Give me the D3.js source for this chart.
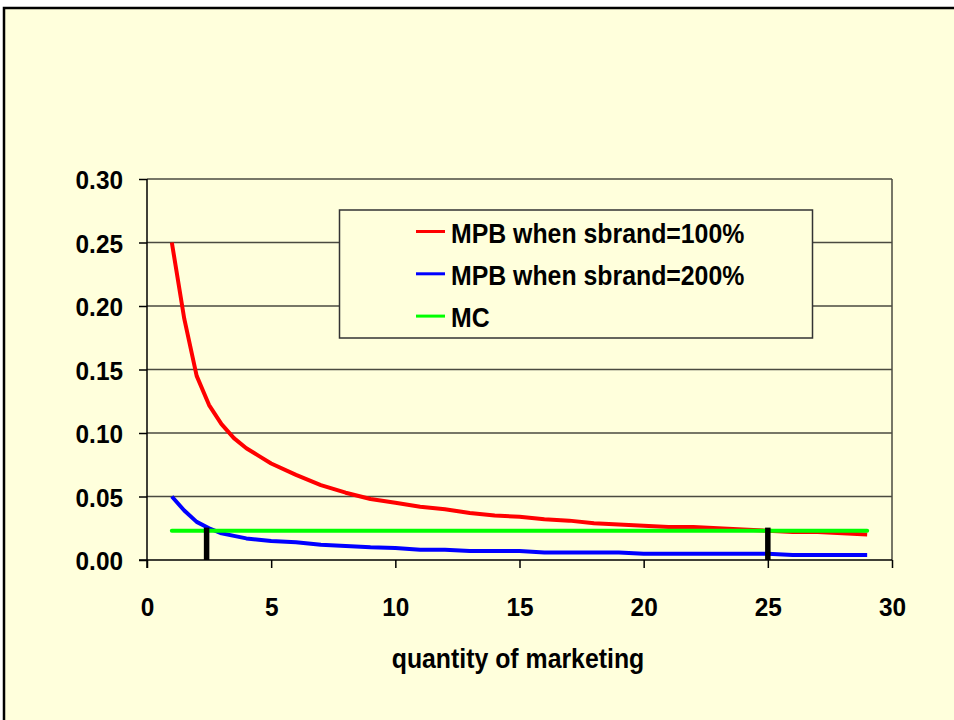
<!DOCTYPE html>
<html>
<head>
<meta charset="utf-8">
<script src="https://cdn.jsdelivr.net/npm/d3@7/dist/d3.min.js"></script>
<style>
  html, body { margin: 0; padding: 0; background: #ffffff; }
  svg { display: block; }
  text { font-family: "Liberation Sans", Arial, sans-serif; font-weight: bold; fill: #000; }
</style>
</head>
<body>
<svg id="chart" width="954" height="720"></svg>
<script>
// ---- data ----
const xValues = [1, 1.5, 2, 2.5, 3, 3.5, 4, 4.5, 5, 6, 7, 8, 9, 10, 11, 12, 13, 14, 15, 16, 17, 18, 19, 20, 21, 22, 23, 24, 25, 26, 27, 28, 29];
const mpb100 = [0.250, 0.190, 0.145, 0.122, 0.107, 0.096, 0.088, 0.082, 0.076, 0.067, 0.059, 0.053, 0.048, 0.045, 0.042, 0.040, 0.037, 0.035, 0.034, 0.032, 0.031, 0.029, 0.028, 0.027, 0.026, 0.026, 0.025, 0.024, 0.023, 0.022, 0.022, 0.021, 0.020];
const mpb200 = [0.050, 0.039, 0.030, 0.025, 0.021, 0.019, 0.017, 0.016, 0.015, 0.014, 0.012, 0.011, 0.010, 0.0095, 0.008, 0.008, 0.007, 0.007, 0.007, 0.006, 0.006, 0.006, 0.006, 0.005, 0.005, 0.005, 0.005, 0.005, 0.005, 0.004, 0.004, 0.004, 0.004];
const mcValue = 0.023;
const markerX = [2.4, 25];
const markerTop = [0.0255, 0.0255];
const seriesNames = ["MPB when sbrand=100%", "MPB when sbrand=200%", "MC"];
const seriesColors = ["#ff0000", "#0000ff", "#00ff00"];
const xTicks = [0, 5, 10, 15, 20, 25, 30];
const yTicks = [0, 0.05, 0.10, 0.15, 0.20, 0.25, 0.30];
const xTitle = "quantity of marketing";

// ---- layout ----
const svg = d3.select("#chart");
const bg = "#ffffdc";
const plot = { left: 147, right: 892, top: 179, bottom: 560 };
const x = d3.scaleLinear().domain([0, 30]).range([plot.left, plot.right]);
const y = d3.scaleLinear().domain([0, 0.30]).range([plot.bottom, plot.top]);
const squeeze = 0.92;

function condense(sel) {
  sel.each(function () {
    const len = this.getComputedTextLength();
    d3.select(this).attr("textLength", len * squeeze).attr("lengthAdjust", "spacingAndGlyphs");
  });
}

// outer frame
svg.append("rect").attr("x", 4).attr("y", 8).attr("width", 980).attr("height", 740)
  .attr("fill", bg).attr("stroke", "#000").attr("stroke-width", 2.5);

// gridlines
svg.append("g").selectAll("line").data(yTicks.filter(d => d > 0)).join("line")
  .attr("x1", plot.left).attr("x2", plot.right)
  .attr("y1", d => y(d)).attr("y2", d => y(d))
  .attr("stroke", "#4a4a40").attr("stroke-width", 1.5);
// right border of plot area
svg.append("line").attr("x1", plot.right).attr("x2", plot.right)
  .attr("y1", plot.top).attr("y2", plot.bottom)
  .attr("stroke", "#4a4a40").attr("stroke-width", 1.5);

// axes
const yAxis = d3.axisLeft(y).tickValues(yTicks).tickFormat(d3.format(".2f")).tickSize(8).tickPadding(16);
const xAxis = d3.axisBottom(x).tickValues(xTicks).tickFormat(d3.format("d")).tickSize(8).tickPadding(29);

const gy = svg.append("g").attr("transform", `translate(${plot.left},0)`).call(yAxis);
const gx = svg.append("g").attr("transform", `translate(0,${plot.bottom})`).call(xAxis);
[gx, gy].forEach(g => {
  g.select(".domain").attr("stroke", "#000").attr("stroke-width", 1.5);
  g.selectAll(".tick line").attr("stroke", "#000").attr("stroke-width", 1.5);
  g.selectAll(".tick text").attr("font-size", 26.5).attr("font-weight", "bold")
    .attr("font-family", '"Liberation Sans", Arial, sans-serif').attr("fill", "#000");
});
gy.select(".domain").attr("d", `M0,${plot.top}V${plot.bottom + 8}`);
gx.select(".domain").attr("d", `M${plot.left - 8},0H${plot.right}`);
gy.selectAll(".tick text").attr("dy", "0.36em").call(condense);
gx.selectAll(".tick text").attr("dy", "0.72em").call(condense);

// series
const line = d3.line().x(d => x(d[0])).y(d => y(d[1]));
const data100 = xValues.map((v, i) => [v, mpb100[i]]);
const data200 = xValues.map((v, i) => [v, mpb200[i]]);
const dataMC = [[xValues[0], mcValue], [xValues[xValues.length - 1], mcValue]];

svg.append("path").datum(data200).attr("d", line).attr("fill", "none")
  .attr("stroke", seriesColors[1]).attr("stroke-width", 4).attr("stroke-linejoin", "round");
svg.append("path").datum(data100).attr("d", line).attr("fill", "none")
  .attr("stroke", seriesColors[0]).attr("stroke-width", 4).attr("stroke-linejoin", "round");
svg.append("path").datum(dataMC).attr("d", line).attr("fill", "none")
  .attr("stroke", seriesColors[2]).attr("stroke-width", 4).attr("stroke-linecap", "round");

// vertical markers
svg.append("g").selectAll("line").data(markerX).join("line")
  .attr("x1", d => x(d)).attr("x2", d => x(d))
  .attr("y1", y(0)).attr("y2", (d, i) => y(markerTop[i]))
  .attr("stroke", "#000").attr("stroke-width", 5.5);

// legend
const lg = svg.append("g");
lg.append("rect").attr("x", 339.5).attr("y", 210).attr("width", 473).attr("height", 128)
  .attr("fill", bg).attr("stroke", "#333").attr("stroke-width", 1.5);
const rows = lg.selectAll("g.row").data(seriesNames).join("g").attr("class", "row")
  .attr("transform", (d, i) => `translate(0,${231.5 + i * 42.3})`);
rows.append("line").attr("x1", 416).attr("x2", 445).attr("y1", 0).attr("y2", 0)
  .attr("stroke", (d, i) => seriesColors[i]).attr("stroke-width", 3);
rows.append("text").attr("x", 451).attr("y", 11).attr("font-size", 27).text(d => d).call(condense);

// x title
svg.append("text").attr("x", 518).attr("y", 668).attr("text-anchor", "middle")
  .attr("font-size", 27).text(xTitle).call(condense);
</script>
</body>
</html>
